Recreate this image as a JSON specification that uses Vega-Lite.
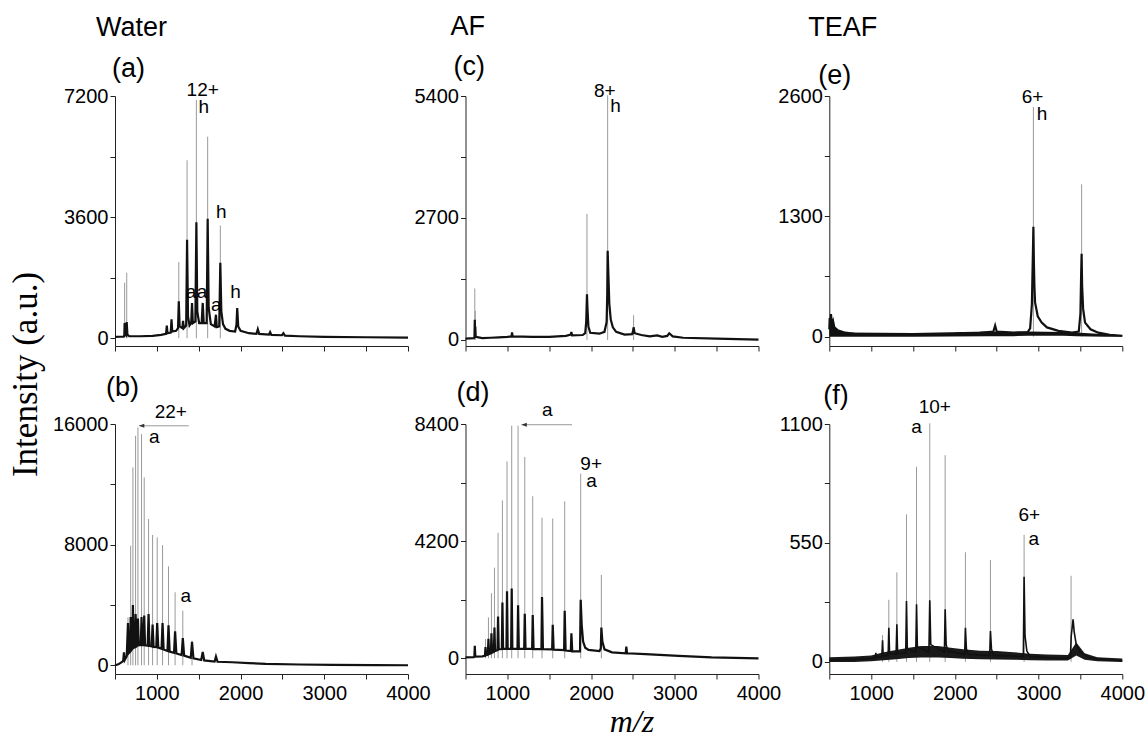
{
"$schema": "https://vega.github.io/schema/vega-lite/v6.json",
"padding": {"left": 8, "top": 12, "right": 5, "bottom": 5},
"background": "white",
"config": {
  "view": {"stroke": null},
  "axis": {"grid": false, "domainColor": "#222", "tickColor": "#222", "labelColor": "#000", "labelFont": "Liberation Sans", "labelFontSize": 20, "tickSize": 5, "labelFlush": false, "labelOverlap": false, "format": "d"},
  "title": {"font": "Liberation Sans", "fontSize": 27, "fontWeight": "normal", "color": "#000", "frame": "group", "anchor": "start", "align": "left", "baseline": "alphabetic"},
  "text": {"font": "Liberation Sans", "fontSize": 19, "align": "center", "baseline": "middle", "color": "#000"}
},
"datasets": {
"spec": [
{"p":"a","mz":500,"v":40},{"p":"a","mz":560,"v":45},{"p":"a","mz":600,"v":50},{"p":"a","mz":611,"v":70},{"p":"a","mz":615,"v":450},{"p":"a","mz":621,"v":120},{"p":"a","mz":634,"v":90},{"p":"a","mz":640,"v":480},{"p":"a","mz":648,"v":110},{"p":"a","mz":670,"v":60},{"p":"a","mz":800,"v":60},{"p":"a","mz":950,"v":70},{"p":"a","mz":1050,"v":100},{"p":"a","mz":1110,"v":130},{"p":"a","mz":1119,"v":380},{"p":"a","mz":1127,"v":150},{"p":"a","mz":1166,"v":170},{"p":"a","mz":1175,"v":560},{"p":"a","mz":1184,"v":200},{"p":"a","mz":1230,"v":220},{"p":"a","mz":1253,"v":300},{"p":"a","mz":1262,"v":1100},{"p":"a","mz":1272,"v":350},{"p":"a","mz":1305,"v":300},{"p":"a","mz":1313,"v":520},{"p":"a","mz":1322,"v":300},{"p":"a","mz":1350,"v":380},{"p":"a","mz":1361,"v":2930},{"p":"a","mz":1372,"v":650},{"p":"a","mz":1390,"v":380},{"p":"a","mz":1410,"v":450},{"p":"a","mz":1420,"v":1050},{"p":"a","mz":1430,"v":450},{"p":"a","mz":1460,"v":500},{"p":"a","mz":1472,"v":3450},{"p":"a","mz":1483,"v":800},{"p":"a","mz":1505,"v":450},{"p":"a","mz":1535,"v":450},{"p":"a","mz":1548,"v":1050},{"p":"a","mz":1560,"v":450},{"p":"a","mz":1595,"v":450},{"p":"a","mz":1607,"v":3550},{"p":"a","mz":1619,"v":900},{"p":"a","mz":1645,"v":420},{"p":"a","mz":1690,"v":350},{"p":"a","mz":1706,"v":700},{"p":"a","mz":1716,"v":330},{"p":"a","mz":1745,"v":350},{"p":"a","mz":1758,"v":2240},{"p":"a","mz":1770,"v":800},{"p":"a","mz":1790,"v":420},{"p":"a","mz":1820,"v":280},{"p":"a","mz":1870,"v":220},{"p":"a","mz":1935,"v":200},{"p":"a","mz":1951,"v":400},{"p":"a","mz":1960,"v":900},{"p":"a","mz":1972,"v":350},{"p":"a","mz":2000,"v":220},{"p":"a","mz":2100,"v":150},{"p":"a","mz":2190,"v":130},{"p":"a","mz":2206,"v":270},{"p":"a","mz":2222,"v":130},{"p":"a","mz":2340,"v":110},{"p":"a","mz":2353,"v":180},{"p":"a","mz":2368,"v":100},{"p":"a","mz":2495,"v":90},{"p":"a","mz":2512,"v":150},{"p":"a","mz":2530,"v":80},{"p":"a","mz":2700,"v":60},{"p":"a","mz":3000,"v":40},{"p":"a","mz":3500,"v":30},{"p":"a","mz":4000,"v":20},

{"p":"b","mz":500,"v":0},{"p":"b","mz":540,"v":60},{"p":"b","mz":580,"v":200},{"p":"b","mz":598,"v":300},{"p":"b","mz":607,"v":850},{"p":"b","mz":616,"v":350},{"p":"b","mz":640,"v":600},{"p":"b","mz":655,"v":2800},{"p":"b","mz":664,"v":800},{"p":"b","mz":680,"v":900},{"p":"b","mz":687,"v":3200},{"p":"b","mz":696,"v":1000},{"p":"b","mz":707,"v":1080},{"p":"b","mz":714,"v":4000},{"p":"b","mz":723,"v":1150},{"p":"b","mz":738,"v":1200},{"p":"b","mz":746,"v":3400},{"p":"b","mz":756,"v":1250},{"p":"b","mz":766,"v":1300},{"p":"b","mz":774,"v":3100},{"p":"b","mz":784,"v":1330},{"p":"b","mz":808,"v":1340},{"p":"b","mz":817,"v":3200},{"p":"b","mz":827,"v":1340},{"p":"b","mz":840,"v":1340},{"p":"b","mz":849,"v":3300},{"p":"b","mz":859,"v":1320},{"p":"b","mz":890,"v":1300},{"p":"b","mz":901,"v":3400},{"p":"b","mz":912,"v":1280},{"p":"b","mz":938,"v":1250},{"p":"b","mz":949,"v":2700},{"p":"b","mz":961,"v":1220},{"p":"b","mz":993,"v":1210},{"p":"b","mz":1004,"v":2800},{"p":"b","mz":1017,"v":1170},{"p":"b","mz":1056,"v":1100},{"p":"b","mz":1068,"v":2800},{"p":"b","mz":1081,"v":1050},{"p":"b","mz":1127,"v":950},{"p":"b","mz":1139,"v":2650},{"p":"b","mz":1153,"v":900},{"p":"b","mz":1205,"v":820},{"p":"b","mz":1218,"v":2250},{"p":"b","mz":1233,"v":780},{"p":"b","mz":1296,"v":680},{"p":"b","mz":1310,"v":1800},{"p":"b","mz":1326,"v":640},{"p":"b","mz":1405,"v":500},{"p":"b","mz":1420,"v":1550},{"p":"b","mz":1437,"v":460},{"p":"b","mz":1530,"v":350},{"p":"b","mz":1548,"v":880},{"p":"b","mz":1566,"v":320},{"p":"b","mz":1690,"v":250},{"p":"b","mz":1706,"v":580},{"p":"b","mz":1725,"v":230},{"p":"b","mz":1900,"v":200},{"p":"b","mz":2100,"v":140},{"p":"b","mz":2300,"v":90},{"p":"b","mz":2700,"v":50},{"p":"b","mz":3100,"v":20},{"p":"b","mz":3600,"v":5},{"p":"b","mz":4000,"v":0},

{"p":"c","mz":500,"v":30},{"p":"c","mz":600,"v":40},{"p":"c","mz":607,"v":60},{"p":"c","mz":611,"v":450},{"p":"c","mz":614,"v":120},{"p":"c","mz":617,"v":300},{"p":"c","mz":622,"v":70},{"p":"c","mz":700,"v":40},{"p":"c","mz":800,"v":50},{"p":"c","mz":900,"v":60},{"p":"c","mz":1000,"v":70},{"p":"c","mz":1050,"v":80},{"p":"c","mz":1056,"v":170},{"p":"c","mz":1063,"v":80},{"p":"c","mz":1300,"v":70},{"p":"c","mz":1500,"v":70},{"p":"c","mz":1700,"v":90},{"p":"c","mz":1758,"v":120},{"p":"c","mz":1765,"v":180},{"p":"c","mz":1773,"v":100},{"p":"c","mz":1900,"v":110},{"p":"c","mz":1930,"v":150},{"p":"c","mz":1942,"v":400},{"p":"c","mz":1951,"v":1014},{"p":"c","mz":1957,"v":700},{"p":"c","mz":1968,"v":300},{"p":"c","mz":1990,"v":160},{"p":"c","mz":2100,"v":140},{"p":"c","mz":2160,"v":180},{"p":"c","mz":2186,"v":400},{"p":"c","mz":2193,"v":1000},{"p":"c","mz":2198,"v":1975},{"p":"c","mz":2206,"v":1500},{"p":"c","mz":2218,"v":800},{"p":"c","mz":2235,"v":450},{"p":"c","mz":2260,"v":280},{"p":"c","mz":2300,"v":180},{"p":"c","mz":2400,"v":120},{"p":"c","mz":2490,"v":130},{"p":"c","mz":2502,"v":200},{"p":"c","mz":2508,"v":281},{"p":"c","mz":2520,"v":150},{"p":"c","mz":2600,"v":110},{"p":"c","mz":2700,"v":80},{"p":"c","mz":2790,"v":100},{"p":"c","mz":2850,"v":70},{"p":"c","mz":2910,"v":90},{"p":"c","mz":2934,"v":149},{"p":"c","mz":2975,"v":80},{"p":"c","mz":3100,"v":50},{"p":"c","mz":3500,"v":30},{"p":"c","mz":4000,"v":10},

{"p":"d","mz":500,"v":30},{"p":"d","mz":600,"v":40},{"p":"d","mz":606,"v":60},{"p":"d","mz":611,"v":450},{"p":"d","mz":617,"v":60},{"p":"d","mz":700,"v":70},{"p":"d","mz":732,"v":90},{"p":"d","mz":739,"v":400},{"p":"d","mz":746,"v":110},{"p":"d","mz":767,"v":130},{"p":"d","mz":774,"v":700},{"p":"d","mz":781,"v":150},{"p":"d","mz":803,"v":180},{"p":"d","mz":810,"v":900},{"p":"d","mz":817,"v":200},{"p":"d","mz":839,"v":230},{"p":"d","mz":846,"v":1100},{"p":"d","mz":853,"v":260},{"p":"d","mz":882,"v":290},{"p":"d","mz":889,"v":1500},{"p":"d","mz":897,"v":320},{"p":"d","mz":934,"v":330},{"p":"d","mz":941,"v":2000},{"p":"d","mz":949,"v":340},{"p":"d","mz":989,"v":340},{"p":"d","mz":996,"v":2400},{"p":"d","mz":1004,"v":340},{"p":"d","mz":1045,"v":340},{"p":"d","mz":1052,"v":2500},{"p":"d","mz":1060,"v":340},{"p":"d","mz":1121,"v":340},{"p":"d","mz":1128,"v":1900},{"p":"d","mz":1137,"v":340},{"p":"d","mz":1201,"v":340},{"p":"d","mz":1208,"v":1600},{"p":"d","mz":1217,"v":335},{"p":"d","mz":1296,"v":335},{"p":"d","mz":1303,"v":1550},{"p":"d","mz":1313,"v":330},{"p":"d","mz":1407,"v":330},{"p":"d","mz":1414,"v":2200},{"p":"d","mz":1425,"v":330},{"p":"d","mz":1535,"v":320},{"p":"d","mz":1542,"v":1200},{"p":"d","mz":1553,"v":310},{"p":"d","mz":1678,"v":290},{"p":"d","mz":1685,"v":1700},{"p":"d","mz":1696,"v":280},{"p":"d","mz":1758,"v":260},{"p":"d","mz":1765,"v":900},{"p":"d","mz":1775,"v":250},{"p":"d","mz":1868,"v":250},{"p":"d","mz":1876,"v":2100},{"p":"d","mz":1888,"v":1200},{"p":"d","mz":1905,"v":600},{"p":"d","mz":1930,"v":380},{"p":"d","mz":1970,"v":300},{"p":"d","mz":2100,"v":260},{"p":"d","mz":2116,"v":350},{"p":"d","mz":2123,"v":1100},{"p":"d","mz":2135,"v":600},{"p":"d","mz":2160,"v":320},{"p":"d","mz":2250,"v":214},{"p":"d","mz":2414,"v":180},{"p":"d","mz":2421,"v":420},{"p":"d","mz":2430,"v":180},{"p":"d","mz":2648,"v":150},{"p":"d","mz":3045,"v":90},{"p":"d","mz":3440,"v":30},{"p":"d","mz":4000,"v":0},

{"p":"e","mz":500,"v":80},{"p":"e","mz":505,"v":200},{"p":"e","mz":512,"v":120},{"p":"e","mz":520,"v":243},{"p":"e","mz":530,"v":130},{"p":"e","mz":545,"v":170},{"p":"e","mz":560,"v":100},{"p":"e","mz":600,"v":70},{"p":"e","mz":690,"v":43},{"p":"e","mz":800,"v":30},{"p":"e","mz":1200,"v":25},{"p":"e","mz":1600,"v":25},{"p":"e","mz":2000,"v":30},{"p":"e","mz":2300,"v":40},{"p":"e","mz":2460,"v":55},{"p":"e","mz":2481,"v":120},{"p":"e","mz":2500,"v":55},{"p":"e","mz":2700,"v":45},{"p":"e","mz":2870,"v":50},{"p":"e","mz":2899,"v":90},{"p":"e","mz":2920,"v":350},{"p":"e","mz":2932,"v":900},{"p":"e","mz":2938,"v":1186},{"p":"e","mz":2944,"v":800},{"p":"e","mz":2950,"v":550},{"p":"e","mz":2958,"v":370},{"p":"e","mz":2990,"v":220},{"p":"e","mz":3037,"v":152},{"p":"e","mz":3100,"v":100},{"p":"e","mz":3237,"v":62},{"p":"e","mz":3400,"v":45},{"p":"e","mz":3480,"v":55},{"p":"e","mz":3500,"v":250},{"p":"e","mz":3509,"v":700},{"p":"e","mz":3514,"v":895},{"p":"e","mz":3520,"v":550},{"p":"e","mz":3532,"v":300},{"p":"e","mz":3555,"v":152},{"p":"e","mz":3620,"v":80},{"p":"e","mz":3713,"v":43},{"p":"e","mz":3850,"v":20},{"p":"e","mz":4000,"v":10},

{"p":"f","mz":500,"v":8},{"p":"f","mz":1000,"v":15},{"p":"f","mz":1050,"v":20},{"p":"f","mz":1056,"v":42},{"p":"f","mz":1062,"v":20},{"p":"f","mz":1128,"v":25},{"p":"f","mz":1136,"v":100},{"p":"f","mz":1144,"v":28},{"p":"f","mz":1203,"v":30},{"p":"f","mz":1211,"v":158},{"p":"f","mz":1220,"v":40},{"p":"f","mz":1298,"v":35},{"p":"f","mz":1307,"v":174},{"p":"f","mz":1316,"v":40},{"p":"f","mz":1413,"v":40},{"p":"f","mz":1422,"v":282},{"p":"f","mz":1432,"v":60},{"p":"f","mz":1533,"v":45},{"p":"f","mz":1542,"v":267},{"p":"f","mz":1552,"v":70},{"p":"f","mz":1690,"v":45},{"p":"f","mz":1700,"v":285},{"p":"f","mz":1712,"v":80},{"p":"f","mz":1875,"v":45},{"p":"f","mz":1884,"v":243},{"p":"f","mz":1896,"v":80},{"p":"f","mz":1915,"v":50},{"p":"f","mz":2117,"v":35},{"p":"f","mz":2126,"v":158},{"p":"f","mz":2138,"v":60},{"p":"f","mz":2160,"v":35},{"p":"f","mz":2416,"v":30},{"p":"f","mz":2425,"v":143},{"p":"f","mz":2437,"v":60},{"p":"f","mz":2460,"v":30},{"p":"f","mz":2818,"v":25},{"p":"f","mz":2827,"v":394},{"p":"f","mz":2838,"v":120},{"p":"f","mz":2860,"v":50},{"p":"f","mz":2900,"v":25},{"p":"f","mz":3300,"v":15},{"p":"f","mz":3380,"v":20},{"p":"f","mz":3390,"v":120},{"p":"f","mz":3412,"v":197},{"p":"f","mz":3425,"v":140},{"p":"f","mz":3450,"v":80},{"p":"f","mz":3500,"v":45},{"p":"f","mz":3600,"v":20},{"p":"f","mz":3800,"v":10},{"p":"f","mz":4000,"v":5}
],
"band": [
{"p":"e","mz":500,"lo":0,"v":150},{"p":"e","mz":560,"lo":0,"v":120},{"p":"e","mz":600,"lo":0,"v":60},{"p":"e","mz":700,"lo":0,"v":45},{"p":"e","mz":1500,"lo":0,"v":40},{"p":"e","mz":2400,"lo":5,"v":55},{"p":"e","mz":2700,"lo":5,"v":50},{"p":"e","mz":2880,"lo":10,"v":55},{"p":"e","mz":3300,"lo":10,"v":50},{"p":"e","mz":3450,"lo":5,"v":45},{"p":"e","mz":3800,"lo":0,"v":25},{"p":"e","mz":4000,"lo":0,"v":15},
{"p":"f","mz":500,"lo":0,"v":22},{"p":"f","mz":800,"lo":0,"v":25},{"p":"f","mz":1000,"lo":3,"v":30},{"p":"f","mz":1150,"lo":8,"v":45},{"p":"f","mz":1300,"lo":12,"v":55},{"p":"f","mz":1450,"lo":18,"v":65},{"p":"f","mz":1600,"lo":20,"v":73},{"p":"f","mz":1800,"lo":20,"v":73},{"p":"f","mz":1950,"lo":18,"v":65},{"p":"f","mz":2100,"lo":14,"v":58},{"p":"f","mz":2300,"lo":12,"v":52},{"p":"f","mz":2500,"lo":11,"v":50},{"p":"f","mz":2700,"lo":10,"v":45},{"p":"f","mz":2900,"lo":8,"v":38},{"p":"f","mz":3100,"lo":7,"v":34},{"p":"f","mz":3350,"lo":6,"v":32},{"p":"f","mz":3450,"lo":30,"v":90},{"p":"f","mz":3550,"lo":10,"v":40},{"p":"f","mz":3700,"lo":3,"v":22},{"p":"f","mz":4000,"lo":0,"v":16}
],
"peaks": [
{"p":"a","mz":615,"v":1650},{"p":"a","mz":640,"v":1950},{"p":"a","mz":1262,"v":2260},{"p":"a","mz":1361,"v":5290},{"p":"a","mz":1472,"v":7080},{"p":"a","mz":1607,"v":5990},{"p":"a","mz":1758,"v":3350},
{"p":"b","mz":655,"v":3180},{"p":"b","mz":687,"v":7930},{"p":"b","mz":714,"v":13120},{"p":"b","mz":746,"v":15220},{"p":"b","mz":774,"v":15770},{"p":"b","mz":817,"v":15330},{"p":"b","mz":849,"v":12460},{"p":"b","mz":901,"v":9700},{"p":"b","mz":949,"v":8640},{"p":"b","mz":1004,"v":8480},{"p":"b","mz":1068,"v":7970},{"p":"b","mz":1139,"v":6560},{"p":"b","mz":1218,"v":4840},{"p":"b","mz":1310,"v":3620},{"p":"b","mz":1420,"v":1630},
{"p":"c","mz":611,"v":1140},{"p":"c","mz":617,"v":644},{"p":"c","mz":1951,"v":2789},{"p":"c","mz":2198,"v":5414},{"p":"c","mz":2508,"v":548},
{"p":"d","mz":739,"v":690},{"p":"d","mz":774,"v":1465},{"p":"d","mz":810,"v":2333},{"p":"d","mz":846,"v":3250},{"p":"d","mz":889,"v":4500},{"p":"d","mz":941,"v":5660},{"p":"d","mz":996,"v":7060},{"p":"d","mz":1052,"v":8340},{"p":"d","mz":1128,"v":8340},{"p":"d","mz":1208,"v":7220},{"p":"d","mz":1303,"v":5810},{"p":"d","mz":1414,"v":5040},{"p":"d","mz":1542,"v":5010},{"p":"d","mz":1685,"v":5630},{"p":"d","mz":1876,"v":6620},{"p":"d","mz":2123,"v":2990},
{"p":"e","mz":2938,"v":2480},{"p":"e","mz":3514,"v":1646},
{"p":"f","mz":1136,"v":124},{"p":"f","mz":1211,"v":287},{"p":"f","mz":1307,"v":414},{"p":"f","mz":1422,"v":682},{"p":"f","mz":1542,"v":902},{"p":"f","mz":1700,"v":1103},{"p":"f","mz":1884,"v":956},{"p":"f","mz":2126,"v":507},{"p":"f","mz":2425,"v":471},{"p":"f","mz":2827,"v":588},{"p":"f","mz":3388,"v":398}
],
"labels": [
{"p":"a","mz":1548,"v":7368,"t":"12+"},{"p":"a","mz":1560,"v":6861,"t":"h"},{"p":"a","mz":1770,"v":3744,"t":"h"},{"p":"a","mz":1408,"v":1372,"t":"a"},{"p":"a","mz":1539,"v":1372,"t":"a"},{"p":"a","mz":1709,"v":984,"t":"a"},{"p":"a","mz":1940,"v":1387,"t":"h"},
{"p":"b","mz":1167,"v":16770,"t":"22+"},{"p":"b","mz":968,"v":15170,"t":"a"},{"p":"b","mz":1345,"v":4560,"t":"a"},
{"p":"c","mz":2164,"v":5519,"t":"8+"},{"p":"c","mz":2293,"v":5186,"t":"h"},
{"p":"d","mz":1478,"v":8910,"t":"a"},{"p":"d","mz":2001,"v":6980,"t":"9+"},{"p":"d","mz":2004,"v":6370,"t":"a"},
{"p":"e","mz":2928,"v":2590,"t":"6+"},{"p":"e","mz":3040,"v":2404,"t":"h"},
{"p":"f","mz":1760,"v":1180,"t":"10+"},{"p":"f","mz":1542,"v":1088,"t":"a"},{"p":"f","mz":2888,"v":677,"t":"6+"},{"p":"f","mz":2944,"v":566,"t":"a"}
],
"arrows": [
{"p":"b","mz":786,"mz2":1381,"v":15880},
{"p":"d","mz":1168,"mz2":1772,"v":8374}
]
},
"spacing": -17.5,
"hconcat": [
{
 "title": {"text": "Water", "dx": -19, "offset": 13},
 "spacing": 78, "bounds": "flush",
 "vconcat": [
  {
   "width": 293, "height": 250,
   "title": {"text": "(a)", "dx": -3, "offset": -2},
   "encoding": {
    "x": {"field": "mz", "type": "quantitative", "scale": {"domain": [500, 4000], "nice": false, "zero": false}, "axis": {"values": [500,1000,1500,2000,2500,3000,3500,4000], "labels": false, "title": null}},
    "y": {"field": "v", "type": "quantitative", "scale": {"domain": [-230, 7200], "nice": false, "zero": false}, "axis": {"values": [0,1800,3600,5400,7200], "labelExpr": "datum.value % 3600 === 0 ? datum.label : ''", "labelPadding": 2, "title": "Intensity (a.u.)", "titleFont": "Liberation Serif", "titleFontSize": 35, "titleFontWeight": "normal", "titleColor": "#000", "titleAngle": 270, "titleAlign": "center", "titleBaseline": "alphabetic", "titleX": -79, "titleY": 278}}
   },
   "layer": [
    {"data": {"name": "peaks"}, "transform": [{"filter": "datum.p === 'a'"}], "mark": {"type": "rule", "color": "#9a9a9a", "strokeWidth": 1}, "encoding": {"y2": {"datum": 0}}},
    {"data": {"name": "spec"}, "transform": [{"filter": "datum.p === 'a'"}], "mark": {"type": "line", "color": "#111", "strokeWidth": 2.2}},
    {"data": {"name": "labels"}, "transform": [{"filter": "datum.p === 'a'"}], "mark": {"type": "text"}, "encoding": {"text": {"field": "t"}}}
   ]
  },
  {
   "width": 293, "height": 250,
   "title": {"text": "(b)", "dx": -9, "offset": 1},
   "encoding": {
    "x": {"field": "mz", "type": "quantitative", "scale": {"domain": [500, 4000], "nice": false, "zero": false}, "axis": {"values": [500,1000,1500,2000,2500,3000,3500,4000], "labelExpr": "datum.value % 1000 === 0 ? datum.label : ''", "labelPadding": 4, "title": null}},
    "y": {"field": "v", "type": "quantitative", "scale": {"domain": [-580, 16000], "nice": false, "zero": false}, "axis": {"values": [0,4000,8000,12000,16000], "labelExpr": "datum.value % 8000 === 0 ? datum.label : ''", "labelPadding": 2, "title": null}}
   },
   "layer": [
    {"data": {"name": "peaks"}, "transform": [{"filter": "datum.p === 'b'"}], "mark": {"type": "rule", "color": "#9a9a9a", "strokeWidth": 1}, "encoding": {"y2": {"datum": 0}}},
    {"data": {"name": "spec"}, "transform": [{"filter": "datum.p === 'b'"}], "mark": {"type": "line", "color": "#111", "strokeWidth": 2.2}},
    {"data": {"name": "arrows"}, "transform": [{"filter": "datum.p === 'b'"}], "mark": {"type": "rule", "color": "#999", "strokeWidth": 1}, "encoding": {"x2": {"field": "mz2"}}},
    {"data": {"name": "arrows"}, "transform": [{"filter": "datum.p === 'b'"}], "mark": {"type": "point", "shape": "M 0 0 L 2.4 -0.9 L 2.4 0.9 Z", "filled": true, "color": "#333", "size": 20, "opacity": 1}},
    {"data": {"name": "labels"}, "transform": [{"filter": "datum.p === 'b'"}], "mark": {"type": "text"}, "encoding": {"text": {"field": "t"}}}
   ]
  }
 ]
},
{
 "spacing": -4.2,
 "hconcat": [
  {
   "title": {"text": "AF", "dx": -15, "offset": 12},
   "spacing": 78, "bounds": "flush",
   "vconcat": [
    {
     "width": 293, "height": 250,
     "title": {"text": "(c)", "dx": -12, "offset": 1},
     "encoding": {
      "x": {"field": "mz", "type": "quantitative", "scale": {"domain": [500, 4000], "nice": false, "zero": false}, "axis": {"values": [500,1000,1500,2000,2500,3000,3500,4000], "labels": false, "title": null}},
      "y": {"field": "v", "type": "quantitative", "scale": {"domain": [-133, 5400], "nice": false, "zero": false}, "axis": {"values": [0,1350,2700,4050,5400], "labelExpr": "datum.value % 2700 === 0 ? datum.label : ''", "labelPadding": 2, "title": null}}
     },
     "layer": [
      {"data": {"name": "peaks"}, "transform": [{"filter": "datum.p === 'c'"}], "mark": {"type": "rule", "color": "#9a9a9a", "strokeWidth": 1}, "encoding": {"y2": {"datum": 0}}},
      {"data": {"name": "spec"}, "transform": [{"filter": "datum.p === 'c'"}], "mark": {"type": "line", "color": "#111", "strokeWidth": 2.2}},
      {"data": {"name": "labels"}, "transform": [{"filter": "datum.p === 'c'"}], "mark": {"type": "text"}, "encoding": {"text": {"field": "t"}}}
     ]
    },
    {
     "width": 293, "height": 250,
     "title": {"text": "(d)", "dx": -9, "offset": -6},
     "encoding": {
      "x": {"field": "mz", "type": "quantitative", "scale": {"domain": [500, 4000], "nice": false, "zero": false}, "axis": {"values": [500,1000,1500,2000,2500,3000,3500,4000], "labelExpr": "datum.value % 1000 === 0 ? datum.label : ''", "labelPadding": 4, "title": "m/z", "titleFont": "Liberation Serif", "titleFontStyle": "italic", "titleFontSize": 32, "titleFontWeight": "normal", "titleColor": "#000", "titleBaseline": "alphabetic", "titleAlign": "center", "titleX": 166, "titleY": 57}},
      "y": {"field": "v", "type": "quantitative", "scale": {"domain": [-563, 8400], "nice": false, "zero": false}, "axis": {"values": [0,2100,4200,6300,8400], "labelExpr": "datum.value % 4200 === 0 ? datum.label : ''", "labelPadding": 2, "title": null}}
     },
     "layer": [
      {"data": {"name": "peaks"}, "transform": [{"filter": "datum.p === 'd'"}], "mark": {"type": "rule", "color": "#9a9a9a", "strokeWidth": 1}, "encoding": {"y2": {"datum": 0}}},
      {"data": {"name": "spec"}, "transform": [{"filter": "datum.p === 'd'"}], "mark": {"type": "line", "color": "#111", "strokeWidth": 2.2}},
      {"data": {"name": "arrows"}, "transform": [{"filter": "datum.p === 'd'"}], "mark": {"type": "rule", "color": "#999", "strokeWidth": 1}, "encoding": {"x2": {"field": "mz2"}}},
      {"data": {"name": "arrows"}, "transform": [{"filter": "datum.p === 'd'"}], "mark": {"type": "point", "shape": "M 0 0 L 2.4 -0.9 L 2.4 0.9 Z", "filled": true, "color": "#333", "size": 20, "opacity": 1}},
      {"data": {"name": "labels"}, "transform": [{"filter": "datum.p === 'd'"}], "mark": {"type": "text"}, "encoding": {"text": {"field": "t"}}}
     ]
    }
   ]
  },
  {
   "title": {"text": "TEAF", "dx": -21, "offset": 20},
   "spacing": 78, "bounds": "flush",
   "vconcat": [
    {
     "width": 293, "height": 250,
     "title": {"text": "(e)", "dx": -11, "offset": -4},
     "encoding": {
      "x": {"field": "mz", "type": "quantitative", "scale": {"domain": [500, 4000], "nice": false, "zero": false}, "axis": {"values": [500,1000,1500,2000,2500,3000,3500,4000], "labels": false, "title": null}},
      "y": {"field": "v", "type": "quantitative", "scale": {"domain": [-101, 2600], "nice": false, "zero": false}, "axis": {"values": [0,650,1300,1950,2600], "labelExpr": "datum.value % 1300 === 0 ? datum.label : ''", "labelPadding": 2, "title": null}}
     },
     "layer": [
      {"data": {"name": "peaks"}, "transform": [{"filter": "datum.p === 'e'"}], "mark": {"type": "rule", "color": "#9a9a9a", "strokeWidth": 1}, "encoding": {"y2": {"datum": 0}}},
      {"data": {"name": "band"}, "transform": [{"filter": "datum.p === 'e'"}], "mark": {"type": "area", "color": "#111", "opacity": 1}, "encoding": {"y2": {"field": "lo"}}},
      {"data": {"name": "spec"}, "transform": [{"filter": "datum.p === 'e'"}], "mark": {"type": "line", "color": "#111", "strokeWidth": 2.2}},
      {"data": {"name": "labels"}, "transform": [{"filter": "datum.p === 'e'"}], "mark": {"type": "text"}, "encoding": {"text": {"field": "t"}}}
     ]
    },
    {
     "width": 293, "height": 250,
     "title": {"text": "(f)", "dx": -6, "offset": -12},
     "encoding": {
      "x": {"field": "mz", "type": "quantitative", "scale": {"domain": [500, 4000], "nice": false, "zero": false}, "axis": {"values": [500,1000,1500,2000,2500,3000,3500,4000], "labelExpr": "datum.value % 1000 === 0 ? datum.label : ''", "labelPadding": 4, "title": null}},
      "y": {"field": "v", "type": "quantitative", "scale": {"domain": [-56, 1100], "nice": false, "zero": false}, "axis": {"values": [0,275,550,825,1100], "labelExpr": "datum.value % 550 === 0 ? datum.label : ''", "labelPadding": 2, "title": null}}
     },
     "layer": [
      {"data": {"name": "peaks"}, "transform": [{"filter": "datum.p === 'f'"}], "mark": {"type": "rule", "color": "#9a9a9a", "strokeWidth": 1}, "encoding": {"y2": {"datum": 0}}},
      {"data": {"name": "band"}, "transform": [{"filter": "datum.p === 'f'"}], "mark": {"type": "area", "color": "#1a1a1a", "opacity": 1}, "encoding": {"y2": {"field": "lo"}}},
      {"data": {"name": "spec"}, "transform": [{"filter": "datum.p === 'f'"}], "mark": {"type": "line", "color": "#111", "strokeWidth": 1.6}},
      {"data": {"name": "labels"}, "transform": [{"filter": "datum.p === 'f'"}], "mark": {"type": "text"}, "encoding": {"text": {"field": "t"}}}
     ]
    }
   ]
  }
 ]
}
]
}
